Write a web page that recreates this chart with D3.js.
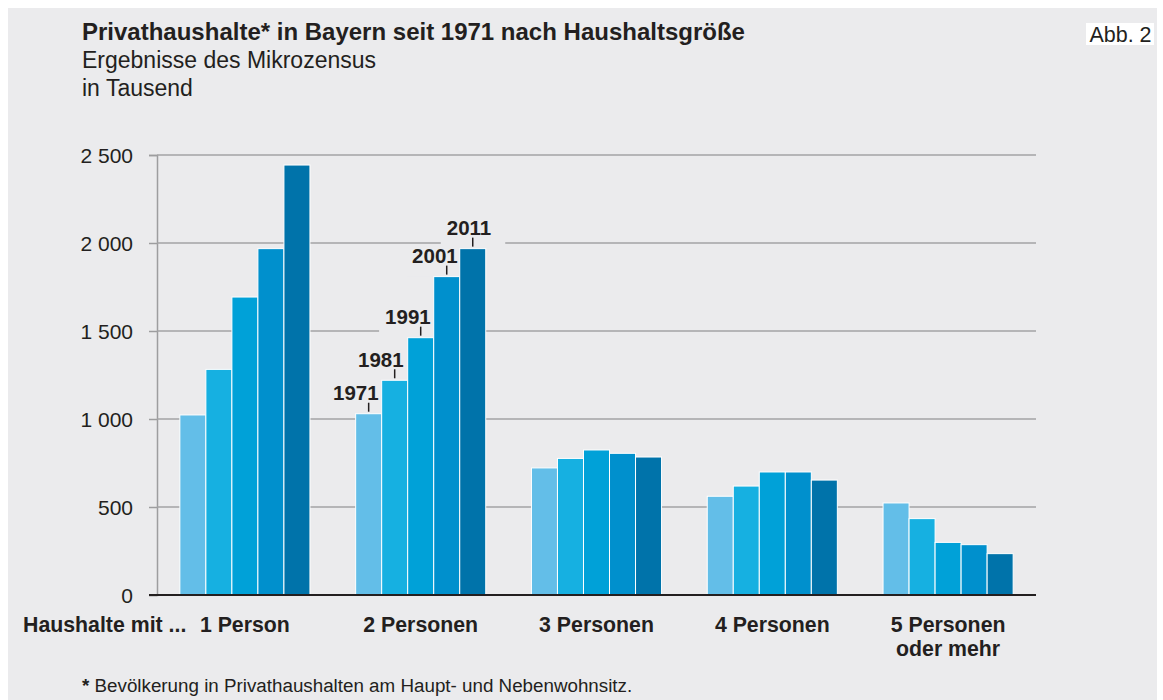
<!DOCTYPE html>
<html>
<head>
<meta charset="utf-8">
<script src="https://cdn.jsdelivr.net/npm/d3@7"></script>
<style>
  body { margin: 0; background: #fff; }
  svg text { font-family: "Liberation Sans", Arial, Helvetica, sans-serif; fill: #231f20; }
</style>
</head>
<body>
<svg id="chart" width="1163" height="700"></svg>
<script>
// data (in Tausend)
var categories = ["1 Person", "2 Personen", "3 Personen", "4 Personen", "5 Personen|oder mehr"];
var years = ["1971", "1981", "1991", "2001", "2011"];
var values1971 = [1023, 1030, 722, 561, 523];
var values1981 = [1282, 1220, 776, 619, 434];
var values1991 = [1693, 1462, 824, 699, 299];
var values2001 = [1968, 1809, 805, 699, 286];
var values2011 = [2443, 1968, 784, 653, 235];
var yTicks = [0, 500, 1000, 1500, 2000, 2500];
var yearColors = ["#63bee8", "#16b0e1", "#00a1d8", "#0090cd", "#0073aa"];

var series = [values1971, values1981, values1991, values2001, values2011];

var svg = d3.select("#chart");

// panel
svg.append("rect").attr("x", 8).attr("y", 8).attr("width", 1149).attr("height", 700).attr("fill", "#ebebed");

// Abb. box
svg.append("rect").attr("x", 1086).attr("y", 23).attr("width", 68).attr("height", 22).attr("fill", "#fff");
svg.append("text").attr("x", 1120.5).attr("y", 41.5).attr("text-anchor", "middle")
  .style("font-size", "21.5px").text("Abb. 2");

// titles
svg.append("text").attr("x", 82).attr("y", 40).style("font-size", "24px").style("font-weight", "bold")
  .text("Privathaushalte* in Bayern seit 1971 nach Haushaltsgröße");
svg.append("text").attr("x", 82).attr("y", 68).style("font-size", "23px").text("Ergebnisse des Mikrozensus");
svg.append("text").attr("x", 82).attr("y", 96).style("font-size", "23px").text("in Tausend");

var x0 = d3.scaleBand().domain(categories).range([157, 1036]).paddingInner(0.26).paddingOuter(0.13);
var x1 = d3.scaleBand().domain(years).range([0, x0.bandwidth()]);
var y = d3.scaleLinear().domain([0, 2500]).range([595, 155]);

var fmt = d3.formatLocale({ decimal: ",", thousands: " ", grouping: [3], currency: ["", "€"] }).format(",d");

// gridlines + y axis
var yAxis = d3.axisLeft(y).tickValues(yTicks).tickSize(8).tickPadding(16).tickFormat(fmt);
var gy = svg.append("g").attr("transform", "translate(157,0)").call(yAxis);
gy.select(".domain").attr("stroke", "#9d9d9f").attr("stroke-width", 1.5);
gy.selectAll(".tick line").attr("stroke", "#9d9d9f").attr("stroke-width", 1.5);
gy.selectAll(".tick text").style("font-size", "21px").style("font-family", "Liberation Sans, Arial, sans-serif")
  .attr("fill", "#231f20").attr("dy", "0.35em");

svg.append("g").selectAll("line").data(yTicks.slice(1)).enter().append("line")
  .attr("x1", 157).attr("x2", 1036)
  .attr("y1", function(d) { return y(d); }).attr("y2", function(d) { return y(d); })
  .attr("stroke", "#a3a3a5").attr("stroke-width", 1.5);

// year labels at the second group (background masks the gridlines)
var labelDx = [10, 9, 10, 11, 18.5];
var labelGroup = categories[1];
var lab = svg.append("g").selectAll("g").data(years).enter().append("g");
lab.each(function(yr, i) {
  var g = d3.select(this);
  var cx = x0(labelGroup) + x1(yr) + x1.bandwidth() / 2;
  var top = y(series[i][1]);
  var t = g.append("text").attr("x", cx + labelDx[i]).attr("y", top - 13.5)
    .attr("text-anchor", "end").style("font-size", "20.5px").style("font-weight", "bold").text(yr);
  var bb = t.node().getBBox();
  g.insert("rect", "text").attr("x", bb.x - 6).attr("y", bb.y).attr("width", bb.width + 20)
    .attr("height", top - bb.y).attr("fill", "#ebebed");
  g.append("line").attr("x1", cx).attr("x2", cx).attr("y1", top - 11).attr("y2", top - 2)
    .attr("stroke", "#231f20").attr("stroke-width", 1.5);
});

// bars
var groups = svg.append("g").selectAll("g").data(categories).enter().append("g")
  .attr("transform", function(d) { return "translate(" + x0(d) + ",0)"; });
groups.selectAll("rect").data(function(d, ci) {
    return years.map(function(yr, yi) { return { year: yr, idx: yi, value: series[yi][ci] }; });
  })
  .enter().append("rect")
  .attr("x", function(d) { return x1(d.year); })
  .attr("y", function(d) { return y(d.value); })
  .attr("width", x1.bandwidth())
  .attr("height", function(d) { return y(0) - y(d.value); })
  .attr("fill", function(d) { return yearColors[d.idx]; })
  .attr("stroke", "#fff").attr("stroke-width", 1);

// baseline
svg.append("line").attr("x1", 149).attr("x2", 1036).attr("y1", y(0)).attr("y2", y(0))
  .attr("stroke", "#231f20").attr("stroke-width", 2.2);

// x labels
svg.append("text").attr("x", 23).attr("y", 632).style("font-size", "21.3px").style("font-weight", "bold")
  .text("Haushalte mit ...");
var xl = svg.append("g").selectAll("text").data(categories).enter().append("text")
  .attr("x", function(d) { return x0(d) + x0.bandwidth() / 2; })
  .attr("y", 632).attr("text-anchor", "middle").style("font-size", "21.3px").style("font-weight", "bold");
xl.selectAll("tspan").data(function(d) { return d.split("|"); }).enter().append("tspan")
  .attr("x", function() { var p = this.parentNode.__data__; return x0(p) + x0.bandwidth() / 2; })
  .attr("dy", function(d, i) { return i ? 24 : 0; })
  .text(function(d) { return d; });

// footnote
var fn = svg.append("text").attr("x", 82).attr("y", 692).style("font-size", "18.8px");
fn.append("tspan").style("font-weight", "bold").text("*");
fn.append("tspan").text(" Bevölkerung in Privathaushalten am Haupt- und Nebenwohnsitz.");
</script>
</body>
</html>
